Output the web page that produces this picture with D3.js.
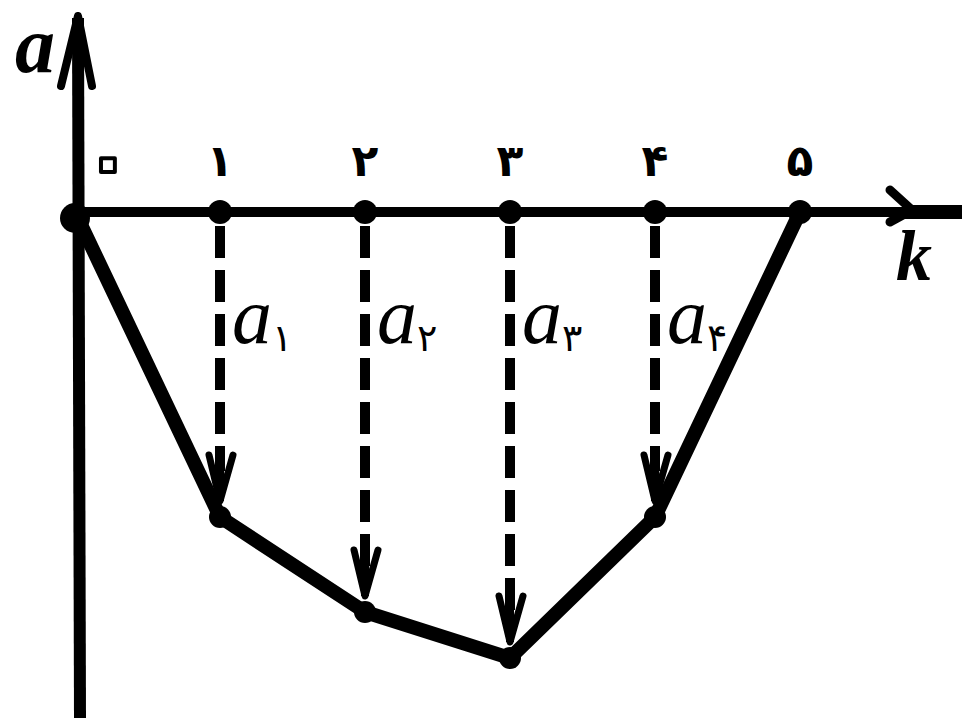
<!DOCTYPE html>
<html>
<head>
<meta charset="utf-8">
<script src="https://cdn.jsdelivr.net/npm/d3@7"></script>
<style>
  html, body { margin: 0; padding: 0; background: #fff; }
  svg { display: block; }
</style>
</head>
<body>
<div id="chart"></div>
<script>
// Data.
const kValues = [0, 1, 2, 3, 4, 5];
const aValues = [0, -3.05, -4.0, -4.46, -3.05, 0];
const tickLabels = ["۰", "۱", "۲", "۳", "۴", "۵"];
const arrowIndex = [1, 2, 3, 4];
const arrowDigits = ["۱", "۲", "۳", "۴"];

const width = 962;
const height = 724;
const ink = "#000";

const svg = d3.select("#chart")
  .append("svg")
  .attr("width", width)
  .attr("height", height);

// Scales.
const x = d3.scaleLinear().domain([0, 5]).range([75, 800]);
const y = d3.scaleLinear().domain([0, -4.46]).range([212, 658]);

// Vertical axis with arrow.
const axisX = x(0) + 3;
svg.append("line")
  .attr("x1", axisX).attr("y1", 18)
  .attr("x2", axisX + 2).attr("y2", 718)
  .attr("stroke", ink).attr("stroke-width", 12);
svg.append("path")
  .attr("d", `M${axisX - 17},${86} L${axisX},${16} L${axisX + 14},${86}`)
  .attr("fill", "none").attr("stroke", ink)
  .attr("stroke-width", 8).attr("stroke-linejoin", "round").attr("stroke-linecap", "round");

// Horizontal axis with arrow.
svg.append("line")
  .attr("x1", x(0)).attr("y1", y(0))
  .attr("x2", width).attr("y2", y(0))
  .attr("stroke", ink).attr("stroke-width", 10);
svg.append("path")
  .attr("d", `M${890},${190} L${912},${y(0) - 2} L${890},${222}`)
  .attr("fill", "none").attr("stroke", ink)
  .attr("stroke-width", 9).attr("stroke-linejoin", "round").attr("stroke-linecap", "round");
svg.append("line")
  .attr("x1", 905).attr("y1", y(0))
  .attr("x2", width).attr("y2", y(0))
  .attr("stroke", ink).attr("stroke-width", 14);

// Axis titles.
svg.append("text")
  .attr("x", 15).attr("y", 72)
  .attr("font-family", "Liberation Serif")
  .attr("font-style", "italic").attr("font-weight", "bold")
  .attr("font-size", 80).attr("fill", ink)
  .text("a");
svg.append("text")
  .attr("x", 896).attr("y", 280)
  .attr("font-family", "Liberation Serif")
  .attr("font-style", "italic").attr("font-weight", "bold")
  .attr("font-size", 72).attr("fill", ink)
  .text("k");

// Dashed arrows from the k axis down to the curve.
const arrows = svg.append("g");
arrowIndex.forEach(i => {
  const cx = x(kValues[i]);
  const tipY = y(aValues[i]) - 16;
  arrows.append("line")
    .attr("x1", cx).attr("y1", y(0) + 14)
    .attr("x2", cx).attr("y2", tipY - 30)
    .attr("stroke", ink).attr("stroke-width", 10)
    .attr("stroke-dasharray", "32,12");
  arrows.append("line")
    .attr("x1", cx).attr("y1", tipY - 40)
    .attr("x2", cx).attr("y2", tipY)
    .attr("stroke", ink).attr("stroke-width", 8);
  arrows.append("path")
    .attr("d", `M${cx - 11},${tipY - 46} L${cx},${tipY} L${cx + 13},${tipY - 46}`)
    .attr("fill", "none").attr("stroke", ink)
    .attr("stroke-width", 7).attr("stroke-linejoin", "round").attr("stroke-linecap", "round");
});

// The polyline a(k).
const line = d3.line()
  .x((d, i) => x(kValues[i]))
  .y(d => y(d));
svg.append("path")
  .datum(aValues)
  .attr("d", line)
  .attr("fill", "none").attr("stroke", ink)
  .attr("stroke-width", 14).attr("stroke-linejoin", "round");

// Vertex blobs.
svg.selectAll(".vertex")
  .data(aValues.slice(1, 5))
  .join("circle")
  .attr("class", "vertex")
  .attr("cx", (d, i) => x(kValues[i + 1]))
  .attr("cy", d => y(d))
  .attr("r", 11)
  .attr("fill", ink);

// Dots on the k axis.
svg.selectAll(".tick-dot")
  .data(kValues)
  .join("circle")
  .attr("class", "tick-dot")
  .attr("cx", d => x(d))
  .attr("cy", d => y(0) + (d === 0 ? 6 : 0))
  .attr("r", d => d === 0 ? 15 : 12)
  .attr("fill", ink);

// Persian tick numerals (zero is drawn as a small ring, like the original).
svg.selectAll(".tick-label")
  .data(kValues)
  .join("text")
  .attr("class", "tick-label")
  .attr("x", d => d === 0 ? x(d) + 33 : x(d))
  .attr("y", d => d === 0 ? 188 : 176)
  .attr("text-anchor", "middle")
  .attr("font-family", "DejaVu Sans")
  .attr("font-weight", "bold")
  .attr("font-size", d => d === 0 ? 80 : 44)
  .attr("fill", d => d === 0 ? "#fff" : ink)
  .attr("stroke", d => d === 0 ? ink : "none")
  .attr("stroke-width", 4)
  .attr("stroke-linejoin", "round")
  .text((d, i) => tickLabels[i]);

// a_i labels next to the dashed arrows.
arrowIndex.forEach((i, j) => {
  const t = svg.append("text")
    .attr("x", x(kValues[i]) + 12)
    .attr("y", 343)
    .attr("fill", ink);
  t.append("tspan")
    .attr("font-family", "Liberation Serif")
    .attr("font-style", "italic")
    .attr("font-size", 80)
    .text("a");
  t.append("tspan")
    .attr("font-family", "DejaVu Sans")
    .attr("font-size", 38)
    .attr("dy", 8)
    .text(arrowDigits[j]);
});
</script>
</body>
</html>
